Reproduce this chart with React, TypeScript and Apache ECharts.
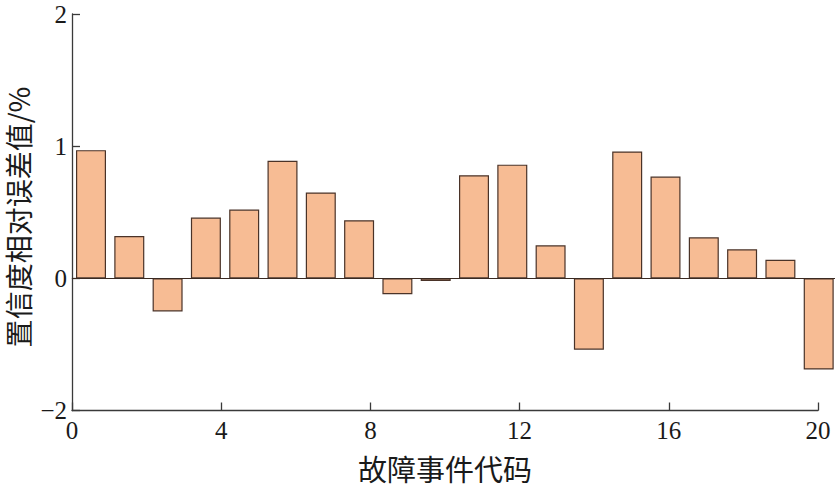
import React, { useEffect, useRef } from "react";
import * as echarts from "echarts";

const eventCodes = ["1","2","3","4","5","6","7","8","9","10","11","12","13","14","15","16","17","18","19","20"];
const relErrors = [0.97, 0.32, -0.25, 0.46, 0.52, 0.89, 0.65, 0.44, -0.12, -0.02, 0.78, 0.86, 0.25, -0.54, 0.96, 0.77, 0.31, 0.22, 0.14, -0.69];
const xTicks = [0, 4, 8, 12, 16, 20];
const yTicks = [-1, 0, 1, 2];
const yTickLabels = ["\u22122", "0", "1", "2"];
const xName = "故障事件代码";
const yName = "置信度相对误差值/%";

const serif = "'Liberation Serif', 'DejaVu Serif', serif";
const cjk = "'Noto Sans CJK SC', sans-serif";
const axisColor = "#3a3a3a";
const textColor = "#1a1a1a";

export default function App() {
  const ref = useRef<HTMLDivElement>(null);
  useEffect(() => {
    if (!ref.current) return;
    const chart = echarts.init(ref.current, undefined, { renderer: "svg" });
    chart.setOption({
      animation: false,
      backgroundColor: "#ffffff",
      grid: [
        { left: 72, top: 14, width: 746, height: 396.5, outerBoundsMode: "none", containLabel: false },
        { left: 71.85, top: 14, width: 766, height: 396.5, outerBoundsMode: "none", containLabel: false },
      ],
      xAxis: [
        {
          type: "value",
          gridIndex: 0,
          min: 0,
          max: 20,
          interval: 4,
          splitLine: { show: false },
          axisLine: { show: true, onZero: false, lineStyle: { color: axisColor, width: 1.3 } },
          axisTick: { show: true, inside: true, length: 8, customValues: xTicks, lineStyle: { color: axisColor, width: 1.3 } },
          axisLabel: { customValues: xTicks, color: textColor, fontFamily: serif, fontSize: 25, margin: 7 },
          name: xName,
          nameLocation: "middle",
          nameGap: 43,
          nameTextStyle: { color: textColor, fontFamily: cjk, fontSize: 29 },
        },
        {
          type: "category",
          gridIndex: 1,
          data: eventCodes,
          boundaryGap: true,
          show: false,
        },
      ],
      yAxis: [
        {
          type: "value",
          gridIndex: 0,
          min: -1,
          max: 2,
          interval: 1,
          splitLine: { show: false },
          axisLine: { show: true, onZero: false, lineStyle: { color: axisColor, width: 1.3 } },
          axisTick: { show: true, inside: true, length: 8, customValues: yTicks, lineStyle: { color: axisColor, width: 1.3 } },
          axisLabel: {
            customValues: yTicks,
            color: textColor,
            fontFamily: serif,
            fontSize: 25,
            margin: 5,
            formatter: (v: number) => yTickLabels[yTicks.indexOf(v)] ?? String(v),
          },
        },
        {
          type: "value",
          gridIndex: 1,
          min: -1,
          max: 2,
          show: false,
        },
      ],
      graphic: [
        {
          type: "text",
          x: 18,
          y: 217,
          rotation: Math.PI / 2,
          style: {
            text: yName,
            fontFamily: cjk,
            fontSize: 28,
            fill: textColor,
            align: "center",
            verticalAlign: "middle",
          },
        },
      ],
      series: [
        {
          type: "bar",
          xAxisIndex: 1,
          yAxisIndex: 1,
          data: relErrors,
          barWidth: 30,
          itemStyle: { color: "#F7BC94", borderColor: "#4a3328", borderWidth: 1.2 },
          markLine: {
            silent: true,
            symbol: "none",
            label: { show: false },
            lineStyle: { color: "#3a2a22", width: 1.2, type: "solid" },
            data: [{ yAxis: 0 }],
          },
        },
      ],
    });
    return () => chart.dispose();
  }, []);
  return <div ref={ref} style={{ width: 835, height: 488, position: "absolute", left: 0, top: 0 }} />;
}
